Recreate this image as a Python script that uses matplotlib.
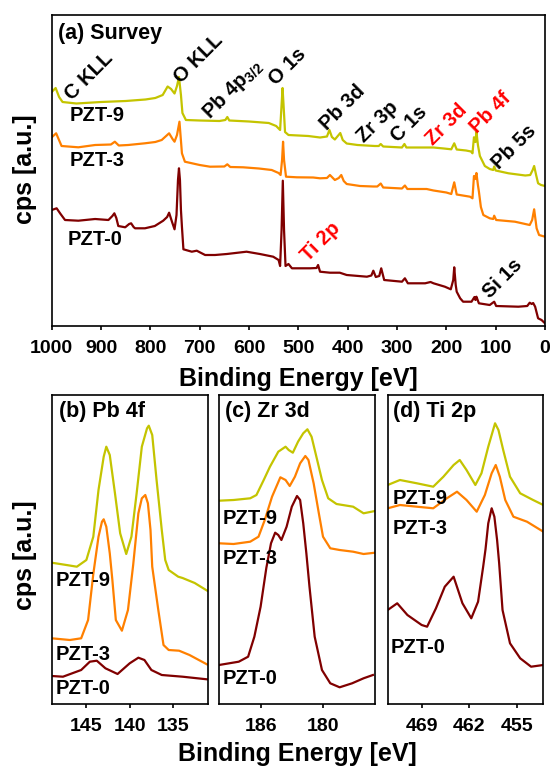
import matplotlib
matplotlib.use("Agg")
import matplotlib.pyplot as plt

plt.rcParams['font.family'] = ['Liberation Sans', 'DejaVu Sans']
plt.rcParams['font.weight'] = 'bold'
plt.rcParams['mathtext.default'] = 'regular'

# ---------------- Survey (a) ----------------
sv9_e = [1000, 992, 985, 978, 950, 900, 850, 810, 790, 775, 765, 758, 751, 746, 742, 738, 735, 728,
         700, 660, 648, 644, 640, 600, 560, 545, 537, 534, 532, 530, 527, 520, 480, 456, 442, 437,
         432, 426, 415, 410, 402, 380, 345, 337, 333, 328, 290, 285, 281, 250, 226, 205, 190, 184,
         179, 160, 150, 147, 144, 141, 139, 136, 132, 128, 122, 112, 105, 103, 100, 74, 40, 30, 25,
         22, 18, 14, 8, 0]
sv9_i = [234, 238, 229, 224, 222.5, 224, 225, 226.5, 228, 231, 239.5, 237, 232.5, 240, 249, 231, 213, 206,
         205.5, 205, 206, 209, 205.5, 204.5, 203, 200, 196, 221, 238, 221, 194, 191, 190, 188.5, 189.5, 196,
         189, 186.5, 193, 186, 182.5, 181, 180, 180, 182, 179.5, 178.5, 182, 178.5, 178.5, 178.5, 177.5, 176.7, 182.7,
         176.5, 175.5, 174.5, 172.7, 188.7, 184, 194.3, 181, 170, 166, 160, 157, 156, 159.5, 155.5, 152.7, 150.5, 151, 156,
         160, 151, 142.7, 141, 140]

sv3_e = [1000, 991, 980, 946, 912, 880, 872, 864, 845, 811, 790, 777, 762, 755, 751, 746, 741, 736, 730,
         700, 679, 650, 644, 638, 612, 580, 554, 540, 536, 533, 531, 529, 525, 503, 470, 456, 442, 436,
         426, 418, 413, 408, 402, 375, 348, 340, 333, 328, 290, 284, 279, 240, 226, 200, 190, 184, 179,
         152, 147, 144, 141.5, 139, 136, 134, 130, 125, 112, 105, 103, 99, 61, 31, 26, 22, 17, 12, 5, 0]
sv3_i = [188.7, 192.7, 180, 178.7, 181, 181.5, 184.3, 180.5, 181, 182.7, 184, 186, 192.7, 187, 184.3, 191, 204.3, 172.7, 164.3,
         161, 159.3, 159.5, 161.7, 159, 158.7, 157.5, 156, 153, 151, 166, 184.3, 166, 149.3, 148.7, 148.5, 147.7, 148, 151,
         146, 148, 151, 145, 142, 140, 139.5, 139.5, 142.5, 138.5, 137.5, 140.5, 137, 137, 135.5, 133.5, 132, 143.7, 131.5,
         129.3, 127.7, 150, 147, 153, 141, 134.5, 119, 111, 107.7, 107, 110.3, 106, 104.3, 101, 106, 116.7, 97.7, 91, 90, 89.3]

sv0_e = [1000, 990, 982, 973, 946, 912, 885, 877, 873, 869, 865, 851, 843, 839, 834, 831, 811, 791, 774,
         766, 762, 756, 751, 747, 744, 742, 740, 738, 736, 733, 716, 706, 689, 669, 645, 605, 578, 551,
         540, 537, 534, 531.5, 529, 526, 520, 513, 476, 463, 460, 456, 436, 416, 402, 361, 352, 348, 343,
         336, 332, 326, 290, 284, 278, 243, 232, 226, 203, 191, 186, 184, 181, 179, 172, 166, 149, 143,
         141, 139, 134, 112, 103, 99, 54, 36, 31, 27, 24, 20, 14, 7, 0]
sv0_i = [116, 117.7, 112, 106, 105.3, 107, 106, 110, 112.7, 108, 100, 98.7, 102, 102.7, 99, 97.7, 97.7, 100, 105.3,
         109, 113.3, 104, 96.7, 111, 146, 157.7, 146, 116, 99.3, 76.7, 74.3, 75.3, 71, 71, 72, 74.3, 72, 69.3,
         66, 60, 96, 145.3, 96, 60, 62, 57.7, 57.7, 58, 61, 54.3, 53.3, 53.3, 51, 49.3, 50.5, 55.3, 49,
         50, 57.7, 46, 44.3, 47.7, 42.7, 42.7, 44, 42.7, 39.3, 36.7, 46, 58.7, 41, 34.3, 27.7, 24.3, 24.3, 29,
         26, 29.3, 22.7, 21, 24.3, 20, 19.3, 20, 23.3, 22, 23, 19.3, 7.7, 6, 2.7]

survey_ticks = [1000, 900, 800, 700, 600, 500, 400, 300, 200, 100, 0]
survey_peaks = [("C KLL", 924.4, 249.3, 'black'), ("O KLL", 702.2, 267.7, 'black'),
                ("Pb 4p$_{3/2}$", 633.5, 237, 'black'), ("O 1s", 521, 259, 'black'),
                ("Pb 3d", 409.5, 218.5, 'black'), ("Zr 3p", 338.5, 204.3, 'black'),
                ("C 1s", 275.7, 202, 'black'), ("Zr 3d", 200.3, 201.8, 'red'),
                ("Pb 4f", 109.5, 213.5, 'red'), ("Pb 5s", 62.8, 178.5, 'black'),
                ("Ti 2p", 454, 84.3, 'red'), ("Si 1s", 85, 47, 'black')]

# ---------------- Pb 4f (b) ----------------
pb9_e = [149, 147.3, 146.1, 145, 144.2, 143.6, 143.0, 142.7, 142.3, 141.7, 141.1, 140.4, 139.8, 139.2,
         138.6, 138.0, 137.8, 137.4, 136.9, 136.3, 135.9, 135.5, 134.4, 133.9, 132.5, 131]
pb9_i = [141.3, 139, 137.3, 144, 167.3, 214, 247.3, 257.3, 249, 210.7, 170.7, 150, 167.3, 210.7,
         257.3, 275.7, 278.3, 269, 224, 174, 144, 134, 127.3, 126, 121, 113]
pb3_e = [149, 146.9, 145.6, 144.8, 144.2, 143.6, 143.2, 143.0, 142.7, 142.3, 142.0, 141.6, 140.9,
         140.2, 139.6, 139.0, 138.6, 138.2, 137.9, 137.6, 137.4, 136.7, 136.1, 135.5, 134.3, 133.1, 131.1]
pb3_i = [65.7, 64, 65.7, 84, 130, 167.3, 182.3, 184.7, 177.3, 150.7, 124, 84, 73.3,
         94, 139, 190.7, 205.7, 209, 200.7, 174, 137.3, 94, 59, 54, 53.3, 49, 39.7]
pb0_e = [149, 147.7, 145.6, 144.6, 143.8, 142.8, 141.4, 140.0, 139.0, 138.3, 137.5, 136.3, 133.9, 131.1]
pb0_i = [28, 27.3, 34, 42.3, 43.3, 35.7, 30, 40.7, 46.3, 44, 34, 29, 27.3, 24.7]

# ---------------- Zr 3d (c) ----------------
zr9_e = [190, 188.6, 187.0, 186.4, 185.7, 185.1, 184.3, 183.6, 183.3, 182.9, 182.4, 181.9, 181.5, 181.1,
         180.6, 180.1, 179.5, 178.7, 177.1, 176.1, 175]
zr9_i = [203.3, 204, 205.7, 209, 224, 237.3, 252.3, 257.3, 254, 251.3, 262.3, 270.7, 274.7, 267.3,
         245.7, 224, 205.7, 200, 197.3, 190.7, 193]
zr3_e = [190, 188.6, 187.0, 186.2, 185.6, 184.9, 184.1, 183.6, 183.2, 182.7, 182.2, 181.7, 181.4, 180.9,
         180.4, 180.0, 179.3, 178.4, 177.1, 176.1, 175]
zr3_i = [160.7, 160, 162.3, 167.3, 184, 207.3, 226.7, 224, 218, 227.3, 240.7, 248, 244, 220.7,
         190.7, 167.3, 155.7, 154, 152.3, 150, 151.3]
zr0_e = [190, 188.1, 187.2, 186.6, 186.0, 185.45, 185.0, 184.6, 184.3, 184.0, 183.5, 183.0, 182.5, 182.2,
         181.9, 181.6, 181.3, 180.8, 180.1, 179.3, 178.4, 177.2, 176.1, 175.2]
zr0_i = [39, 42.3, 47.3, 67.3, 97.3, 136, 160.7, 171.3, 169, 164, 177.3, 197.3, 208, 204,
         180.7, 150.7, 117.3, 67.3, 34, 20.7, 16.7, 20.7, 25.7, 29]

# ---------------- Ti 2p (d) ----------------
ti9_e = [474, 472.2, 469.7, 467.3, 465.8, 464.3, 463.4, 462.4, 461.1, 460.2, 459.2, 458.2, 457.7, 457.0,
         456.0, 454.5, 452.6, 451.1]
ti9_i = [219, 224, 220.7, 217.3, 227.3, 239, 244, 234, 219, 230.7, 257.3, 280.7, 274, 254,
         227.3, 210.7, 204, 199]
ti3_e = [474, 472.2, 469.7, 467.3, 465.3, 463.8, 462.4, 460.9, 459.7, 458.7, 458.1, 457.5, 456.7, 455.5,
         453.5, 451.1]
ti3_i = [195.7, 199, 197.3, 195.7, 205.7, 212.3, 204, 192.3, 209, 230.7, 239, 227.3, 204, 187.3,
         182.3, 172.3]
ti0_e = [474, 472.6, 471.1, 469.0, 468.2, 466.9, 465.6, 464.3, 463.0, 461.7, 460.7, 459.95, 459.6, 459.2,
         458.7, 458.3, 457.9, 457.6, 457.1, 456.0, 454.5, 452.9, 451.1]
ti0_i = [94, 100.7, 89, 79, 77.3, 95.7, 117.3, 127.3, 100.7, 85.7, 102.3, 137.3, 155, 180.7,
         195.7, 187.3, 164, 141, 94, 60.7, 45.7, 37.3, 39]

samples = ["PZT-9", "PZT-3", "PZT-0"]
colors = ["#C4C400", "#FF8000", "#800000"]

W, H = 552, 767
fig = plt.figure(figsize=(W / 100, H / 100), dpi=100)


def frac(x0, y0, x1, y1):
    return [x0 / W, 1 - y1 / H, (x1 - x0) / W, (y1 - y0) / H]


def style(ax):
    for s in ax.spines.values():
        s.set_linewidth(1.2)
    ax.set_yticks([])
    ax.tick_params(axis='x', direction='out', length=3, width=1.2, pad=7,
                   labelsize=14, top=False)
    for lbl in ax.get_xticklabels():
        lbl.set_fontweight('bold')


# Survey
ax = fig.add_axes(frac(51.7, 15, 545, 326))
for e, i, c in [(sv0_e, sv0_i, colors[2]), (sv3_e, sv3_i, colors[1]), (sv9_e, sv9_i, colors[0])]:
    ax.plot(e, i, color=c, lw=1.6)
ax.set_xlim(1000, 0)
ax.set_ylim(0, 311)
ax.set_xticks(survey_ticks)
style(ax)
ax.text(987, 293, "(a) Survey", fontsize=15.5, fontweight='bold', ha='left', va='center')
for name, e, i in zip(samples, [908, 908, 912], [211, 166, 86.7]):
    ax.text(e, i, name, fontsize=14.5, fontweight='bold', ha='center', va='center')
for txt, e, i, c in survey_peaks:
    ax.text(e, i, txt, fontsize=14.5, fontweight='bold', color=c, rotation=45,
            ha='center', va='center', rotation_mode='anchor')

panels = [
    (frac(51.7, 395, 207.7, 704), (149, 131), [145, 140, 135], "(b) Pb 4f", 148.2,
     [(pb9_e, pb9_i), (pb3_e, pb3_i), (pb0_e, pb0_i)], [145.4, 145.4, 145.4], [124, 49, 15.7]),
    (frac(219, 395, 375, 704), (190, 175), [186, 180], "(c) Zr 3d", 189.4,
     [(zr9_e, zr9_i), (zr3_e, zr3_i), (zr0_e, zr0_i)], [187.0, 187.0, 187.0], [185.7, 145.7, 25.7]),
    (frac(387.7, 395, 543.3, 704), (474, 451.1), [469, 462, 455], "(d) Ti 2p", 473.2,
     [(ti9_e, ti9_i), (ti3_e, ti3_i), (ti0_e, ti0_i)], [469.2, 469.2, 469.5], [205.7, 175.7, 56.7]),
]
for rect, xl, ticks, title, tx, series, lx, ly in panels:
    ax = fig.add_axes(rect)
    for (e, i), c in zip(series[::-1], colors[::-1]):
        ax.plot(e, i, color=c, lw=1.6)
    ax.set_xlim(*xl)
    ax.set_ylim(0, 309)
    ax.set_xticks(ticks)
    style(ax)
    ax.text(tx, 292.3, title, fontsize=15.5, fontweight='bold', ha='left', va='center')
    for name, e, i in zip(samples, lx, ly):
        ax.text(e, i, name, fontsize=14.5, fontweight='bold', ha='center', va='center')

fig.text(298 / W, 1 - 379 / H, "Binding Energy [eV]", fontsize=18, fontweight='bold',
         ha='center', va='center')
fig.text(297 / W, 1 - 754 / H, "Binding Energy [eV]", fontsize=18, fontweight='bold',
         ha='center', va='center')
fig.text(25 / W, 1 - 169 / H, "cps [a.u.]", fontsize=18, fontweight='bold', rotation=90,
         ha='center', va='center')
fig.text(25 / W, 1 - 555 / H, "cps [a.u.]", fontsize=18, fontweight='bold', rotation=90,
         ha='center', va='center')

fig.savefig("out.png", dpi=100)
